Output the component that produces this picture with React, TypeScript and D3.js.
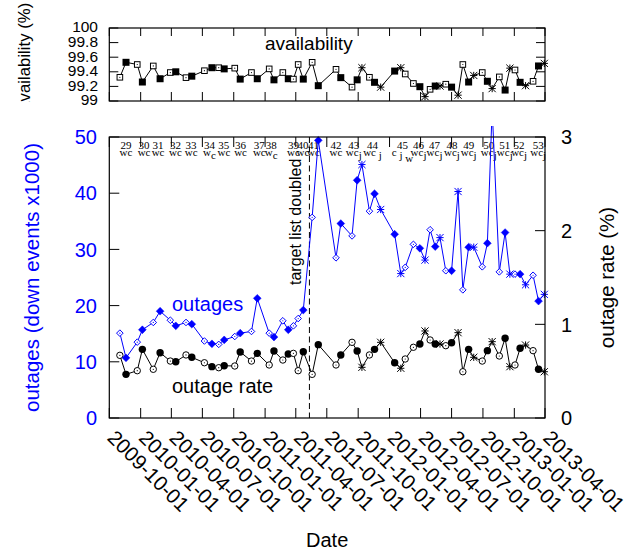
import React from "react";
import * as d3 from "d3";

// ---------- data ----------
const pointDates = [
  "2009-11-01", "2009-11-19", "2009-12-22", "2010-01-06", "2010-02-07", "2010-02-27",
  "2010-03-29", "2010-04-14", "2010-05-14", "2010-05-31", "2010-07-07", "2010-07-29",
  "2010-08-18", "2010-09-03", "2010-10-04", "2010-10-20", "2010-11-22", "2010-12-09",
  "2011-01-13", "2011-01-27", "2011-02-22", "2011-03-10", "2011-03-25", "2011-04-08",
  "2011-04-23", "2011-05-19", "2011-06-06", "2011-07-28", "2011-08-11", "2011-09-13",
  "2011-09-28", "2011-10-12", "2011-11-03", "2011-11-18", "2011-12-06", "2012-01-16",
  "2012-02-03", "2012-02-16", "2012-03-11", "2012-03-30", "2012-04-14", "2012-04-29",
  "2012-05-14", "2012-05-28", "2012-06-14", "2012-07-01", "2012-07-20", "2012-08-03",
  "2012-08-20", "2012-09-04", "2012-09-29", "2012-10-14", "2012-10-28", "2012-11-18",
  "2012-12-05", "2012-12-19", "2013-01-03", "2013-01-18", "2013-02-03", "2013-02-25",
  "2013-03-13", "2013-03-30",
];

const pointSites = [
  "w", "c", "w", "c", "w", "c", "w", "c", "w", "c", "w", "c", "w", "c", "w", "c",
  "w", "c", "w", "c", "w", "c", "w", "w", "c", "w", "c",
  "w", "c", "w", "c", "j", "w", "c", "j", "c", "j", "w", "w", "c", "j", "w", "c",
  "j", "w", "c", "j", "w", "c", "j", "w", "c", "j", "w", "c", "j", "w", "c", "j",
  "w", "c", "j",
];

const outages = [
  15.1, 10.7, 13.5, 15.7, 17.0, 19.0, 17.4, 16.4, 17.0, 16.7, 13.7, 13.2, 13.1, 13.9,
  14.5, 15.1, 15.4, 21.3, 15.1, 14.4, 17.3, 15.7, 16.4, 17.7, 19.2, 35.7, 49.4,
  28.5, 34.6, 32.4, 42.3, 45.1, 36.8, 39.9, 37.1, 32.7, 25.7, 26.8, 30.9, 30.2, 28.1,
  33.5, 30.5, 32.1, 26.2, 26.2, 40.3, 22.8, 30.4, 30.4, 26.9, 31.1, 55.0, 26.0, 33.0,
  25.6, 25.6, 25.6, 23.7, 25.4, 20.8, 22.0,
];

const outageRate = [
  0.669, 0.466, 0.505, 0.733, 0.52, 0.697, 0.608, 0.601, 0.673, 0.648, 0.59, 0.548,
  0.537, 0.558, 0.555, 0.705, 0.608, 0.69, 0.566, 0.715, 0.619, 0.683, 0.69, 0.505,
  0.708, 0.466, 0.783,
  0.566, 0.673, 0.808, 0.715, 0.541, 0.673, 0.733, 0.808, 0.59, 0.531, 0.63, 0.755,
  0.79, 0.929, 0.833, 0.79, 0.79, 0.772, 0.804, 0.911, 0.494, 0.733, 0.648, 0.608,
  0.719, 0.815, 0.662, 0.851, 0.548, 0.566, 0.744, 0.779, 0.719, 0.52, 0.494,
];

const availability = [
  99.325, 99.53, 99.5, 99.26, 99.48, 99.305, 99.39, 99.4, 99.32, 99.34, 99.415, 99.456,
  99.456, 99.44, 99.45, 99.3, 99.39, 99.305, 99.44, 99.29, 99.39, 99.305, 99.3, 99.5,
  99.3, 99.53, 99.21,
  99.434, 99.32, 99.19, 99.29, 99.456, 99.325, 99.256, 99.19, 99.41, 99.456, 99.37,
  99.24, 99.196, 99.06, 99.16, 99.205, 99.205, 99.23, 99.19, 99.08, 99.5, 99.26, 99.35,
  99.39, 99.27, 99.17, 99.33, 99.15, 99.45, 99.425, 99.256, 99.21, 99.27, 99.48, 99.515,
];

const xTicks = [
  "2009-10-01", "2010-01-01", "2010-04-01", "2010-07-01", "2010-10-01", "2011-01-01",
  "2011-04-01", "2011-07-01", "2011-10-01", "2012-01-01", "2012-04-01", "2012-07-01",
  "2012-10-01", "2013-01-01", "2013-04-01",
];
const outageTicks = [0, 10, 20, 30, 40, 50];
const rateTicks = [0, 1, 2, 3];
const availTicks = [99, 99.2, 99.4, 99.6, 99.8, 100];
const availTickLabels = ["99", "99.2", "99.4", "99.6", "99.8", "100"];

const surveyNums = [29, 30, 31, 32, 33, 34, 35, 36, 37, 38, 39, 40, 41, 42, 43, 44, 45, 46, 47, 48, 49, 50, 51, 52, 53];
const surveyDates = [
  "2009-11-19", "2010-01-11", "2010-02-21", "2010-04-13", "2010-05-29", "2010-07-22",
  "2010-09-02", "2010-10-21", "2010-12-15", "2011-01-19", "2011-03-25", "2011-04-22",
  "2011-05-23", "2011-07-28", "2011-09-18", "2011-11-12", "2012-02-08", "2012-03-26",
  "2012-05-12", "2012-07-02", "2012-08-20", "2012-10-18", "2012-12-04", "2013-01-15",
  "2013-03-12",
];
const surveySites = [
  "wc", "wc", "wc", "wc", "wc", "w_c", "wc", "wc", "wc", "w_c", "wc", "wc", "wc",
  "wc", "wc_j", "wc _j", "c _j _w", "wc_j", "wc_j", "wc_j", "wc_j", "wc_j", "wc_j",
  "wc_j", "wc_j",
];
const targetDoubledDate = "2011-05-11";

// ---------- layout ----------
const W = 637;
const H = 554;
const L = 109.3;
const R = 545;
const topT = 28;
const topB = 101;
const mainT = 137;
const mainB = 418;
const BLUE = "#0000ff";
const SANS = "'Liberation Sans', Arial, Helvetica, sans-serif";
const SERIF = "'Liberation Serif', 'Times New Roman', serif";

const parse = d3.utcParse("%Y-%m-%d");

function Marker({ kind, x, y, color }: { kind: string; x: number; y: number; color: string }) {
  if (kind === "star") {
    const r = 3.6;
    const d = `M${x - r},${y}H${x + r}M${x},${y - r}V${y + r}M${x - r},${y - r}L${x + r},${y + r}M${x - r},${y + r}L${x + r},${y - r}`;
    return <path d={d} stroke={color} strokeWidth={1} fill="none" />;
  }
  if (kind === "diamondOpen") {
    const r = 3.3;
    return (
      <g>
        <path d={`M${x},${y - r}L${x + r},${y}L${x},${y + r}L${x - r},${y}Z`} fill="white" stroke={color} strokeWidth={1} />
        <circle cx={x} cy={y} r={0.6} fill={color} />
      </g>
    );
  }
  if (kind === "diamondFilled") {
    const r = 3.9;
    return <path d={`M${x},${y - r}L${x + r},${y}L${x},${y + r}L${x - r},${y}Z`} fill={color} stroke={color} strokeWidth={0.5} />;
  }
  if (kind === "circleOpen") {
    return (
      <g>
        <circle cx={x} cy={y} r={3.2} fill="white" stroke={color} strokeWidth={1} />
        <circle cx={x} cy={y} r={0.6} fill={color} />
      </g>
    );
  }
  if (kind === "circleFilled") {
    return <circle cx={x} cy={y} r={3.7} fill={color} />;
  }
  if (kind === "squareOpen") {
    const s = 2.8;
    return (
      <g>
        <rect x={x - s} y={y - s} width={2 * s} height={2 * s} fill="white" stroke={color} strokeWidth={1} />
        <circle cx={x} cy={y} r={0.6} fill={color} />
      </g>
    );
  }
  const s = 3.5;
  return <rect x={x - s} y={y - s} width={2 * s} height={2 * s} fill={color} />;
}

const kindMaps: Record<string, Record<string, string>> = {
  outages: { w: "diamondOpen", c: "diamondFilled", j: "star" },
  rate: { w: "circleOpen", c: "circleFilled", j: "star" },
  avail: { w: "squareOpen", c: "squareFilled", j: "star" },
};

function siteSpans(s: string) {
  const items: { ch: string; level: number }[] = [];
  let level = 0;
  for (const ch of s) {
    if (ch === "_") {
      level += 3;
      continue;
    }
    items.push({ ch, level });
  }
  let prev = 0;
  return items.map((it, i) => {
    const dy = it.level - prev;
    prev = it.level;
    return (
      <tspan key={i} dy={dy}>
        {it.ch}
      </tspan>
    );
  });
}

export default function App() {
  const x = d3.scaleUtc().domain([parse("2009-10-01")!, parse("2013-04-01")!]).range([L, R]);
  const yAvail = d3.scaleLinear().domain([99, 100]).range([topB, topT]);
  const yOut = d3.scaleLinear().domain([0, 50]).range([mainB, mainT]);
  const yRate = d3.scaleLinear().domain([0, 3]).range([mainB, mainT]);

  const pts = pointDates.map((d, i) => ({
    date: parse(d)!,
    site: pointSites[i],
    out: outages[i],
    rate: outageRate[i],
    avail: availability[i],
  }));

  const lineOut = d3.line<any>().x((d) => x(d.date)).y((d) => yOut(d.out));
  const lineRate = d3.line<any>().x((d) => x(d.date)).y((d) => yRate(d.rate));
  const lineAvail = d3.line<any>().x((d) => x(d.date)).y((d) => yAvail(d.avail));

  const xd = xTicks.map((t) => x(parse(t)!));
  const dashX = x(parse(targetDoubledDate)!);

  return (
    <svg
      width={W}
      height={H}
      viewBox={`0 0 ${W} ${H}`}
      style={{ position: "absolute", left: 0, top: 0, background: "white" }}
      fontFamily={SANS}
    >
      <defs>
        <clipPath id="ylabclip">
          <rect x={0} y={-20} width={100} height={121.5} />
        </clipPath>
        <clipPath id="outclip">
          <rect x={L - 6} y={126} width={R - L + 12} height={mainB - 126 + 6} />
        </clipPath>
      </defs>
      <rect x={0} y={0} width={W} height={H} fill="white" />

      {/* ---------- top panel: availability ---------- */}
      <g clipPath="url(#ylabclip)">
        <text transform={`translate(29.5,110.8) rotate(-90)`} fontSize={16.8}>
          availability (%)
        </text>
      </g>
      {availTicks.map((t, i) => (
        <g key={"at" + i}>
          <line x1={L} x2={L + 9} y1={yAvail(t)} y2={yAvail(t)} stroke="black" />
          <line x1={R - 9} x2={R} y1={yAvail(t)} y2={yAvail(t)} stroke="black" />
          <text x={98} y={yAvail(t) - 1} dy="0.35em" textAnchor="end" fontSize={15.5}>
            {availTickLabels[i]}
          </text>
        </g>
      ))}
      {xd.map((px, i) => (
        <g key={"tx" + i}>
          <line x1={px} x2={px} y1={topT} y2={topT + 8} stroke="black" />
          <line x1={px} x2={px} y1={topB} y2={topB - 9} stroke="black" />
        </g>
      ))}
      <text x={265} y={49.5} fontSize={19}>
        availability
      </text>
      <path d={lineAvail(pts) || ""} fill="none" stroke="black" strokeWidth={1} />
      {pts.map((p, i) => (
        <Marker key={"ma" + i} kind={kindMaps.avail[p.site]} x={x(p.date)} y={yAvail(p.avail)} color="black" />
      ))}
      <rect x={L} y={topT} width={R - L} height={topB - topT} fill="none" stroke="black" strokeWidth={1.2} />

      {/* ---------- main panel ---------- */}
      {outageTicks.map((t, i) => (
        <g key={"ot" + i}>
          <line x1={L} x2={L + 10} y1={yOut(t)} y2={yOut(t)} stroke="black" />
          <text x={97} y={yOut(t)} dy="0.36em" textAnchor="end" fontSize={20} fill={BLUE}>
            {t}
          </text>
        </g>
      ))}
      {rateTicks.map((t, i) => (
        <g key={"rt" + i}>
          <line x1={R - 10} x2={R} y1={yRate(t)} y2={yRate(t)} stroke="black" />
          <text x={561} y={yRate(t)} dy="0.36em" textAnchor="start" fontSize={20}>
            {t}
          </text>
        </g>
      ))}
      {xd.map((px, i) => (
        <g key={"mx" + i}>
          <line x1={px} x2={px} y1={mainB} y2={mainB - 10} stroke="black" />
          <line x1={px} x2={px} y1={mainT} y2={mainT + 10} stroke="black" />
          <text transform={`translate(${px - 3},439) rotate(45)`} fontSize={20.5}>
            {xTicks[i]}
          </text>
        </g>
      ))}

      {/* survey labels */}
      {surveyNums.map((n, i) => {
        const cx = x(parse(surveyDates[i])!);
        return (
          <g key={"sv" + i} fontFamily={SERIF} fontSize={11}>
            <text x={cx} y={148.5} textAnchor="middle">
              {n}
            </text>
            <text x={cx} y={155.5} textAnchor="middle" style={{ whiteSpace: "pre" }}>
              {siteSpans(surveySites[i])}
            </text>
          </g>
        );
      })}

      {/* target list doubled */}
      <line x1={dashX} x2={dashX} y1={mainT} y2={mainB} stroke="black" strokeWidth={1} strokeDasharray="6,3.5" />
      <text transform={`translate(301,285) rotate(-90)`} fontSize={16}>
        target list doubled
      </text>

      {/* outage rate series */}
      <path d={lineRate(pts) || ""} fill="none" stroke="black" strokeWidth={1} />
      {pts.map((p, i) => (
        <Marker key={"mr" + i} kind={kindMaps.rate[p.site]} x={x(p.date)} y={yRate(p.rate)} color="black" />
      ))}

      {/* outages series */}
      <g clipPath="url(#outclip)">
        <path d={lineOut(pts) || ""} fill="none" stroke={BLUE} strokeWidth={1} />
        {pts.map((p, i) => (
          <Marker key={"mo" + i} kind={kindMaps.outages[p.site]} x={x(p.date)} y={yOut(p.out)} color={BLUE} />
        ))}
      </g>

      <text x={172} y={311} fontSize={20} fill={BLUE}>
        outages
      </text>
      <text x={172} y={393} fontSize={20}>
        outage rate
      </text>

      <rect x={L} y={mainT} width={R - L} height={mainB - mainT} fill="none" stroke="black" strokeWidth={1.2} />

      {/* axis titles */}
      <text transform={`translate(39,${(mainT + mainB) / 2}) rotate(-90)`} textAnchor="middle" fontSize={20.5} fill={BLUE}>
        outages (down events x1000)
      </text>
      <text transform={`translate(614,${(mainT + mainB) / 2}) rotate(-90)`} textAnchor="middle" fontSize={20.5}>
        outage rate (%)
      </text>
      <text x={(L + R) / 2} y={547} textAnchor="middle" fontSize={20}>
        Date
      </text>
    </svg>
  );
}
